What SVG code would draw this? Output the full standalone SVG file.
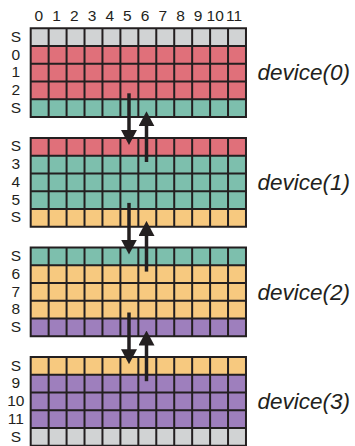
<svg xmlns="http://www.w3.org/2000/svg" xmlns:xlink="http://www.w3.org/1999/xlink" width="355" height="446" viewBox="0 0 355 446">
<style>
.g{fill:#d1d3d4}.r{fill:#e0707a}.t{fill:#7dbfad}.o{fill:#f7c97f}.p{fill:#9e7fbd}
.gl{fill:none;stroke:#231f20;stroke-width:2}
.lbl{font-family:"Liberation Sans",Arial,sans-serif;font-size:15.5px;fill:#231f20;text-anchor:middle}
.dev{font-family:"Liberation Sans",Arial,sans-serif;font-size:22.5px;font-style:italic;fill:#231f20}
.arr{stroke:#231f20;stroke-width:3.5;fill:none;marker-end:url(#ah)}
</style>
<defs>
<marker id="ah" markerUnits="userSpaceOnUse" viewBox="0 0 15 16" refX="10" refY="8" markerWidth="15" markerHeight="16" orient="auto">
<path d="M0,0 L15,8 L0,16 z" fill="#231f20"/>
</marker>
<path id="grid" class="gl" d="M30.7,0V88.75M48.64,0V88.75M66.58,0V88.75M84.52,0V88.75M102.46,0V88.75M120.4,0V88.75M138.34,0V88.75M156.28,0V88.75M174.22,0V88.75M192.16,0V88.75M210.1,0V88.75M228.04,0V88.75M245.98,0V88.75M29.7,0H246.98M29.7,17.75H246.98M29.7,35.5H246.98M29.7,53.25H246.98M29.7,71H246.98M29.7,88.75H246.98"/>
</defs>
<g id="colLabels" class="lbl">
<text x="38.8" y="21">0</text><text x="56.5" y="21">1</text><text x="74.2" y="21">2</text><text x="92" y="21">3</text><text x="109.7" y="21">4</text><text x="127.4" y="21">5</text><text x="145.1" y="21">6</text><text x="162.8" y="21">7</text><text x="180.5" y="21">8</text><text x="198" y="21">9</text><text x="215.2" y="21">10</text><text x="234" y="21">11</text>
</g>
<g id="device0" transform="translate(0,28.3)">
<rect class="g" x="30.7" y="0" width="215.3" height="17.75"/>
<rect class="r" x="30.7" y="17.75" width="215.3" height="53.25"/>
<rect class="t" x="30.7" y="71" width="215.3" height="17.75"/>
<use xlink:href="#grid"/>
<g class="lbl"><text x="15.8" y="13.5">S</text><text x="15.8" y="31.25">0</text><text x="15.8" y="49">1</text><text x="15.8" y="66.75">2</text><text x="15.8" y="84.5">S</text></g>
<text class="dev" x="257.5" y="52">device(0)</text>
</g>
<g id="device1" transform="translate(0,137.9)">
<rect class="r" x="30.7" y="0" width="215.3" height="17.75"/>
<rect class="t" x="30.7" y="17.75" width="215.3" height="53.25"/>
<rect class="o" x="30.7" y="71" width="215.3" height="17.75"/>
<use xlink:href="#grid"/>
<g class="lbl"><text x="15.8" y="13.5">S</text><text x="15.8" y="31.25">3</text><text x="15.8" y="49">4</text><text x="15.8" y="66.75">5</text><text x="15.8" y="84.5">S</text></g>
<text class="dev" x="257.5" y="52">device(1)</text>
</g>
<g id="device2" transform="translate(0,247.5)">
<rect class="t" x="30.7" y="0" width="215.3" height="17.75"/>
<rect class="o" x="30.7" y="17.75" width="215.3" height="53.25"/>
<rect class="p" x="30.7" y="71" width="215.3" height="17.75"/>
<use xlink:href="#grid"/>
<g class="lbl"><text x="15.8" y="13.5">S</text><text x="15.8" y="31.25">6</text><text x="15.8" y="49">7</text><text x="15.8" y="66.75">8</text><text x="15.8" y="84.5">S</text></g>
<text class="dev" x="257.5" y="52">device(2)</text>
</g>
<g id="device3" transform="translate(0,357.1)">
<rect class="o" x="30.7" y="0" width="215.3" height="17.75"/>
<rect class="p" x="30.7" y="17.75" width="215.3" height="53.25"/>
<rect class="g" x="30.7" y="71" width="215.3" height="17.75"/>
<use xlink:href="#grid"/>
<g class="lbl"><text x="15.8" y="13.5">S</text><text x="15.8" y="31.25">9</text><text x="15.8" y="49">10</text><text x="15.8" y="66.75">11</text><text x="15.8" y="84.5">S</text></g>
<text class="dev" x="257.5" y="52">device(3)</text>
</g>
<g id="connectors" class="arr">
<path d="M129,93.3V140"/>
<path d="M146.5,162V116.3"/>
<path d="M129,202.9V249.6"/>
<path d="M146.5,271.6V225.9"/>
<path d="M129,312.5V359.2"/>
<path d="M146.5,381.2V335.5"/>
</g>
</svg>
